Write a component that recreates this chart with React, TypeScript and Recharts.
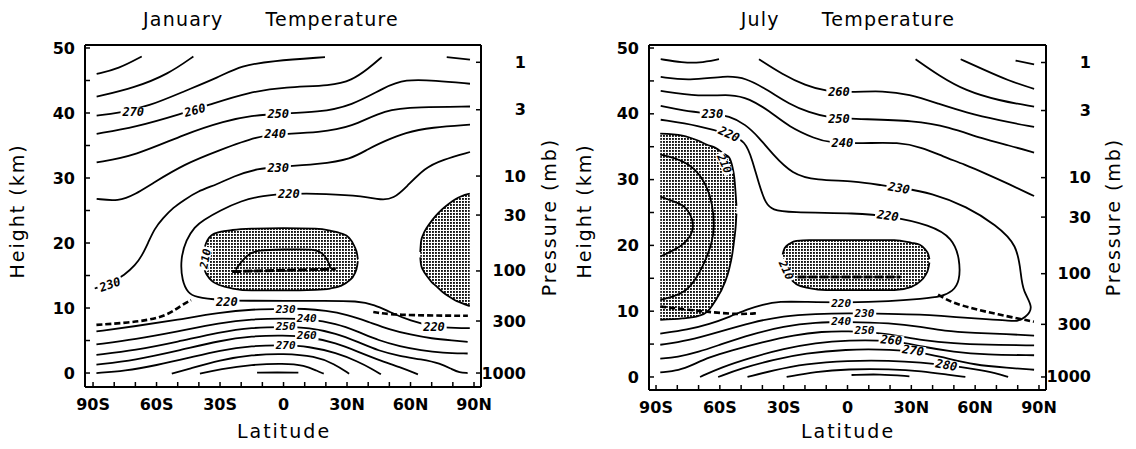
import React from 'react';
import { ComposedChart, Line, Area, Scatter, XAxis, YAxis } from 'recharts';

type Row = number[];

// axis ticks
const latTicks = [-90, -80, -70, -60, -50, -40, -30, -20, -10, 0, 10, 20, 30, 40, 50, 60, 70, 80, 90];
const latMajor = [-90, -60, -30, 0, 30, 60, 90];
const latLabels = ['90S', '60S', '30S', '0', '30N', '60N', '90N'];
const kmTicks = [0, 5, 10, 15, 20, 25, 30, 35, 40, 45, 50];
const kmLabels = [0, 10, 20, 30, 40, 50];
const pressureKm = [0, 8.0, 15.7, 24.3, 30.3, 40.5, 47.8];
const pressureLabels = ['1000', '300', '100', '30', '10', '3', '1'];

// ---- January contours [lat, km] ----
const janA = [[-88.3, 46.0], [-78, 46.8], [-67, 48.7]];
const janB = [[-88.3, 42.5], [-70.2, 43.9], [-54.4, 46.0], [-42.6, 48.7]];
const janTopRight = [[77.1, 48.6], [88.1, 48.2]];
const jan270 = [[-88.3, 39.6], [-78, 40.0], [-63.9, 41.0], [-46.5, 43.4], [-30.8, 45.5], [-19.8, 47.3], [-5.6, 48.0], [19.6, 48.6]];
const jan260 = [[-88.3, 36.8], [-70.2, 37.8], [-48.1, 39.9], [-33.9, 41.4], [-16.6, 43.2], [0.7, 44.0], [22.7, 44.2], [32.2, 45.0], [40, 46.8], [46.4, 48.6]];
const jan250 = [[-88.3, 32.4], [-70.2, 33.4], [-46.5, 36.8], [-27.6, 38.8], [-15.1, 39.6], [-2.5, 39.9], [16.4, 40.1], [32.2, 41.1], [47.9, 44.0], [57.4, 45.2], [71.6, 45.0], [88.1, 44.5]];
const jan240 = [[-88.3, 26.8], [-78, 26.4], [-70, 27.5], [-62.3, 29.1], [-46.5, 32.2], [-30.8, 34.2], [-11.9, 36.5], [0, 36.8], [16.4, 37.0], [32.2, 37.8], [47.9, 40.6], [63.7, 40.9], [88.1, 41.0]];
const jan230 = [[-89.2, 13.0], [-82, 13.8], [-75, 15.1], [-70, 16.6], [-67, 18.0], [-64, 20.0], [-61, 22.2], [-57, 23.8], [-52, 25.5], [-47, 26.6], [-41, 27.9], [-30.8, 29.1], [-24.2, 30.2], [-11.9, 31.5], [-2.3, 31.7], [16.4, 32.1], [32.2, 32.9], [40, 34.5], [47.9, 35.7], [57.4, 37.0], [70, 37.8], [88.1, 38.2]];
const jan220 = [[88.1, 34.0], [75, 32.8], [66.9, 31.6], [58, 28.6], [52, 26.8], [46, 26.6], [38, 27.2], [20, 27.6], [2.6, 27.6], [-10, 27.3], [-20, 26.5], [-30, 25.0], [-38, 23.5], [-42, 22.5], [-46, 20.5], [-48.7, 17.6], [-48, 14.1], [-45, 12.3], [-42, 11.7], [-30, 11.2], [-15.8, 11.1], [0, 11.1], [20, 11.1], [34.8, 11.1], [43.2, 10.5], [50, 9.4], [60, 8.0], [71, 7.1], [82, 6.9], [88, 6.9]];
const jan200 = [[-22.5, 15.9], [-21.7, 16.4], [-18, 17.8], [-15.8, 18.4], [-12.5, 18.9], [0, 19.0], [14.5, 19.1], [18.8, 18.4], [21.5, 17.0], [22.1, 16.1]];
const jan230t = [[-88.4, 6.4], [-70, 7.2], [-50, 8.2], [-30, 9.3], [-15, 9.8], [0, 9.9], [10, 9.9], [20, 9.6], [30, 9.0], [40, 7.9], [50, 6.7], [60, 5.9], [70, 5.3], [80, 5.0], [87, 4.8]];
const jan240t = [[-88.4, 4.4], [-70, 5.2], [-50, 6.4], [-30, 7.7], [-15, 8.3], [0, 8.4], [12, 8.3], [25, 7.6], [35, 6.4], [45, 5.0], [55, 4.1], [65, 3.5], [75, 3.1], [87, 3.0]];
const jan250t = [[-88.4, 2.8], [-70, 3.5], [-50, 4.8], [-30, 6.3], [-15, 7.0], [0, 7.1], [12, 7.0], [25, 6.1], [35, 4.8], [45, 3.4], [55, 2.6], [65, 2.1], [74, 1.5], [80, 0.5], [83, 0.1], [87, 0.0]];
const jan260t = [[-88.4, 1.3], [-70, 2.0], [-50, 3.4], [-30, 5.0], [-15, 5.7], [0, 5.8], [12, 5.6], [25, 4.6], [35, 3.3], [45, 2.0], [55, 0.9], [63.5, -0.2]];
const jan270t = [[-88.4, 0.0], [-75, 0.3], [-60, 1.2], [-45, 2.3], [-30, 3.5], [-15, 4.2], [0, 4.3], [12, 4.1], [25, 3.1], [35, 1.8], [42, 0.6], [46, -0.2]];
const jan280 = [[-52.8, -0.1], [-45, 0.6], [-30, 2.0], [-15, 2.8], [0, 3.0], [15, 2.6], [24, 1.4], [31, -0.1]];
const jan290 = [[-39.5, -0.1], [-30, 0.6], [-15, 1.3], [0, 1.5], [10, 1.2], [16, 0.3], [19, -0.1]];
const jan300 = [[-12.5, 0.05], [-3, 0.1], [7, 0.05]];
const janTropoLeft = [[-88.4, 7.4], [-66.4, 7.9], [-54.6, 8.9], [-47.9, 10.5], [-43.7, 11.2]];
const janTropoRight = [[42.4, 9.4], [51.6, 8.9], [87.1, 8.8]];
const janTropoMid = [[-24.3, 15.6], [24.7, 16.0]];
// shaded (below 210) regions [lat, low km, high km]
const janShadeTropics = [[-37.9, 17.0, 18.0], [-37, 15.6, 19.6], [-36, 15.0, 20.4], [-34, 14.2, 21.2], [-30, 13.5, 21.7], [-24, 13.0, 22.0], [-15, 12.7, 22.2], [0, 12.7, 22.3], [15, 12.8, 22.2], [22, 13.0, 21.9], [27, 13.4, 21.5], [31, 14.2, 20.8], [33.5, 15.2, 19.5], [34.8, 16.5, 18.2], [35.1, 17.2, 17.5]];
const janShadePolar = [[64.6, 17.8, 18.6], [65, 16.6, 20.3], [66, 15.8, 21.3], [68, 14.8, 22.5], [70, 14.0, 23.4], [72, 13.4, 24.2], [75, 12.5, 25.2], [78, 11.8, 26.0], [81, 11.2, 26.7], [84, 10.8, 27.2], [88, 10.3, 27.6]];
// contour labels [lat, km, text, angle, font size]
const janLabels: any[] = [
  [-71, 40.1, '270', 0, 12], [-41.8, 40.4, '260', -15, 12], [-2.5, 39.9, '250', 0, 12], [-4, 36.7, '240', 0, 12],
  [-2.5, 31.6, '230', 0, 12], [2.5, 27.5, '220', 0, 12], [-36.8, 17.6, '210', -80, 11], [-82, 13.6, '230', -20, 12],
  [-26.8, 11.0, '220', 0, 12], [1, 9.7, '230', 0, 11], [11, 8.4, '240', 0, 11], [1, 7.1, '250', 0, 11],
  [11, 5.8, '260', 0, 11], [1, 4.3, '270', 0, 11], [71.1, 7.1, '220', 0, 12],
];

// ---- July contours [lat, km] ----
const julA = [[-87.8, 48.3], [-77.6, 47.8], [-69.8, 47.7], [-60.4, 48.3]];
const julRight1 = [[32.0, 48.3], [43.0, 45.8], [55.5, 43.5], [71.2, 42.0], [87.7, 41.1]];
const julRight2 = [[53.2, 48.3], [63.4, 46.8], [75.9, 45.0], [87.7, 43.8]];
const julRight3 = [[79.0, 48.1], [87.7, 47.5]];
const jul260 = [[-41.6, 48.3], [-30.6, 46.0], [-19.7, 44.3], [-10.3, 43.4], [3.8, 43.3], [16.4, 43.5], [28.9, 43.0], [43.0, 41.5], [55.5, 40.2], [71.2, 39.0], [87.7, 38.0]];
const jul250 = [[-87.8, 45.6], [-74.5, 45.0], [-57.3, 45.8], [-47.9, 45.5], [-36.9, 43.5], [-27.5, 41.5], [-18.1, 40.2], [-8.7, 39.4], [3.8, 39.2], [32.0, 39.0], [47.7, 38.0], [63.4, 36.2], [75.9, 35.2], [87.7, 34.1]];
const jul240 = [[-87.8, 43.5], [-69.8, 42.6], [-54.1, 43.0], [-46.3, 42.3], [-36.9, 40.5], [-27.5, 38.0], [-15.0, 36.2], [-8.7, 35.6], [7.0, 35.5], [24.2, 35.7], [35, 34.9], [45, 33.5], [55, 32.3], [65, 30.9], [76, 29.3], [87.7, 27.5]];
const jul230 = [[-87.8, 41.2], [-77.6, 40.5], [-63.5, 40.0], [-55.7, 39.7], [-47.9, 38.4], [-41.6, 36.4], [-35.3, 33.9], [-25.9, 30.8], [-15.0, 29.9], [3.8, 29.8], [16.4, 29.1], [25.6, 28.7], [39.3, 28.0], [56.2, 25.9], [69.8, 23.1], [79.9, 20.1], [81.5, 15.5], [82.5, 13.0], [87.7, 10.5], [83.4, 9.0], [79.9, 8.4], [75, 8.6], [65, 8.8], [55, 9.0], [43.5, 9.3], [35, 9.5], [20, 9.6], [0, 9.7], [-15, 9.6], [-30, 9.3], [-45, 8.3], [-60, 6.9], [-75, 5.5], [-88, 4.9]];
const jul220 = [[-87.8, 39.1], [-69.8, 38.2], [-55.7, 36.9], [-47.9, 35.9], [-44.7, 32.9], [-41.6, 29.3], [-38.5, 26.3], [-35, 25.4], [-28.6, 25.0], [5.3, 24.9], [18.9, 24.5], [39.2, 23.1], [49.4, 21.1], [52.8, 18.0], [52.8, 14.5], [49.4, 13.0], [44.3, 12.2], [35, 11.9], [20, 11.5], [0, 11.3], [-20, 11.4], [-32, 11.5], [-40, 11.0], [-47, 10.3], [-55, 9.2], [-65, 8.0], [-75, 7.2], [-88, 6.6]];
const julInnerA = [[-88, 33.8], [-78, 33.0], [-71, 31.5], [-66, 29.0], [-63.5, 26.3], [-62.5, 23.0], [-63.5, 20.5], [-67.6, 17.0], [-72, 14.5], [-76.1, 13.0], [-82, 12.2], [-88, 11.7]];
const julInnerB = [[-88, 27.4], [-80, 26.5], [-76, 25.9], [-72.5, 24.0], [-72.5, 22.0], [-76, 20.5], [-80, 19.5], [-88, 18.3]];
const jul240t = [[-88, 2.8], [-80, 3.0], [-70, 3.8], [-60, 4.9], [-45, 6.5], [-30, 7.7], [-15, 8.3], [0, 8.4], [20, 8.2], [35, 7.6], [45, 7.0], [60, 6.7], [75, 6.5], [87.7, 6.3]];
const jul250t = [[-88, 0.7], [-79, 1.0], [-73, 1.8], [-65, 3.0], [-55, 4.0], [-40, 5.3], [-25, 6.4], [-12, 6.9], [0, 7.0], [15, 6.7], [25, 6.2], [35, 5.6], [50, 5.1], [65, 4.9], [87.7, 4.8]];
const jul260t = [[-69.3, 0], [-60, 1.4], [-45, 3.0], [-30, 4.3], [-15, 5.2], [0, 5.6], [20.6, 5.6], [35, 4.6], [50, 3.8], [65, 3.4], [87.7, 3.3]];
const jul270t = [[-60.8, 0], [-50, 1.3], [-35, 2.6], [-20, 3.6], [0, 4.2], [15, 4.2], [30.8, 4.0], [45, 3.0], [60, 1.8], [75, 1.4], [87.7, 1.1]];
const jul280 = [[-47, 0], [-35, 1.0], [-20, 2.0], [0, 2.5], [20, 2.5], [35, 2.2], [46.5, 1.8], [60, 1.2], [70, 0.6], [75.5, 0]];
const jul290 = [[-28.6, 0], [-15, 0.8], [0, 1.2], [20, 1.2], [35, 0.9], [47.8, 0.3], [55.4, 0]];
const jul300 = [[1.9, 0.3], [15, 0.45], [29.1, 0.1]];
const julTropoLeft = [[-88, 10.7], [-74.5, 10.2], [-62.6, 9.8], [-50.7, 9.5], [-42.2, 9.7]];
const julTropoRight = [[42.6, 12.5], [49.4, 11.2], [64.7, 9.9], [87.6, 8.4]];
const julTropoMid = [[-23.5, 15.2], [24.8, 15.2]];
const julShadeTropics = [[-30.5, 17.8, 18.6], [-29.5, 16.2, 19.6], [-27, 15.0, 20.3], [-24, 14.1, 20.7], [-18, 13.5, 20.8], [-10, 13.2, 20.8], [10, 13.2, 20.8], [22, 13.2, 20.8], [30, 13.7, 20.4], [34, 14.5, 20.1], [36.5, 15.4, 19.4], [38, 16.5, 18.6], [38.5, 17.4, 17.9]];
const julShadePolar = [[-88, 8.7, 37.0], [-77.6, 8.9, 36.7], [-70, 9.3, 35.9], [-66, 9.9, 35.3], [-62.5, 11.4, 34.9], [-57.5, 14.5, 33.8], [-55.7, 16.3, 33.4], [-54, 19.0, 31.8], [-53.2, 21.0, 30.3], [-52.5, 23.1, 27.5], [-52.2, 24.8, 26.0]];
const julLabels: any[] = [
  [-4, 43.3, '260', 0, 12], [-4, 39.2, '250', 0, 12], [-2.4, 35.5, '240', 0, 12], [-63.5, 40.0, '230', 0, 12],
  [-55.7, 36.9, '220', 25, 12], [-58, 32.4, '210', 65, 11], [24.2, 28.7, '230', 10, 12], [18.9, 24.5, '220', 8, 12],
  [-29, 16.2, '210', 65, 11], [-3, 11.2, '220', 0, 11], [8, 9.7, '230', 0, 11], [-3, 8.4, '240', 0, 11],
  [8, 7.0, '250', 0, 11], [20.6, 5.6, '260', 5, 12], [30.8, 4.0, '270', 8, 12], [46.5, 1.8, '280', 10, 12],
];

const toPts = (a: Row[]) => a.map(([lat, km]) => ({ lat, km }));
const toRange = (a: Row[]) => a.map(([lat, lo, hi]) => ({ lat, range: [lo, hi] }));
const toLabels = (a: any[]) => a.map(([lat, km, text, angle, size]) => ({ lat, km, text, angle, size }));

const fmtLat = (v: number) => {
  const i = latMajor.indexOf(v);
  return i >= 0 ? latLabels[i] : '';
};
const fmtKm = (v: number) => (kmLabels.includes(v) ? String(v) : '');

const tickFont = { fill: '#000', fontSize: 16, fontWeight: 700, fontFamily: 'DejaVu Sans' };
const axisLine = { stroke: '#000', strokeWidth: 2 };
const tickLine = { stroke: '#000', strokeWidth: 1.5 };

const PressureTick = (props: any) => {
  const { x, y, payload } = props;
  const i = pressureKm.indexOf(payload.value);
  return (
    <text x={x + 50} y={y} textAnchor="end" dominantBaseline="central" {...tickFont}>
      {i >= 0 ? pressureLabels[i] : ''}
    </text>
  );
};

const ContourLabel = (props: any) => {
  const { cx, cy, payload } = props;
  const size = payload.size;
  const w = payload.text.length * size * 0.62 + 3;
  const h = size * 0.85;
  return (
    <g transform={`translate(${cx},${cy}) rotate(${payload.angle})`}>
      <rect x={-w / 2} y={-h / 2} width={w} height={h} fill="#fff" />
      <text
        textAnchor="middle"
        dominantBaseline="central"
        fontSize={size}
        fontWeight={700}
        fontStyle="italic"
        fontFamily="DejaVu Sans Mono"
        fill="#000"
      >
        {payload.text}
      </text>
    </g>
  );
};

interface PanelProps {
  id: string;
  left: number;
  plotBottom: number;
  marginRight: number;
  xDomain: number[];
  yDomain: number[];
  contours: Row[][];
  dashed: Row[][];
  thick: Row[];
  shades: Row[][];
  labels: any[];
}

const Panel = ({ id, left, plotBottom, marginRight, xDomain, yDomain, contours, dashed, thick, shades, labels }: PanelProps) => (
  <div style={{ position: 'absolute', left, top: 0 }}>
    <ComposedChart
      width={560}
      height={449}
      margin={{ top: 44, right: marginRight, bottom: 449 - plotBottom - 40, left: 25 }}
    >
      <defs>
        <pattern id={id} width={3} height={3} patternUnits="userSpaceOnUse">
          <rect width={3} height={3} fill="#fff" />
          <rect width={1.9} height={1.9} fill="#111" />
        </pattern>
      </defs>
      <XAxis
        dataKey="lat"
        type="number"
        domain={xDomain}
        ticks={latTicks}
        interval={0}
        tickFormatter={fmtLat}
        allowDataOverflow
        axisLine={axisLine}
        tickLine={tickLine}
        tickSize={-5}
        tickMargin={17}
        tick={tickFont}
        height={40}
      />
      <XAxis
        xAxisId="top"
        orientation="top"
        type="number"
        domain={xDomain}
        ticks={latTicks}
        interval={0}
        tickFormatter={() => ''}
        allowDataOverflow
        axisLine={axisLine}
        tickLine={tickLine}
        tickSize={-5}
        height={1}
      />
      <YAxis
        type="number"
        domain={yDomain}
        ticks={kmTicks}
        interval={0}
        tickFormatter={fmtKm}
        allowDataOverflow
        axisLine={axisLine}
        tickLine={tickLine}
        tickSize={-5}
        tickMargin={15}
        tick={tickFont}
        width={60}
      />
      <YAxis
        yAxisId="p"
        orientation="right"
        type="number"
        domain={yDomain}
        ticks={pressureKm}
        interval={0}
        allowDataOverflow
        axisLine={axisLine}
        tickLine={tickLine}
        tickSize={-5}
        tickMargin={0}
        tick={<PressureTick />}
        width={60}
      />
      {shades.map((s, i) => (
        <Area
          key={`shade-${i}`}
          data={toRange(s)}
          dataKey="range"
          type="monotone"
          fill={`url(#${id})`}
          fillOpacity={1}
          stroke="#000"
          strokeWidth={1.8}
          dot={false}
          activeDot={false}
          isAnimationActive={false}
        />
      ))}
      {contours.map((c, i) => (
        <Line
          key={`c-${i}`}
          data={toPts(c)}
          dataKey="km"
          type="basis"
          stroke="#000"
          strokeWidth={1.8}
          dot={false}
          activeDot={false}
          isAnimationActive={false}
        />
      ))}
      {dashed.map((c, i) => (
        <Line
          key={`d-${i}`}
          data={toPts(c)}
          dataKey="km"
          type="basis"
          stroke="#000"
          strokeWidth={2.6}
          strokeDasharray="6 3"
          dot={false}
          activeDot={false}
          isAnimationActive={false}
        />
      ))}
      <Line
        data={toPts(thick)}
        dataKey="km"
        type="linear"
        stroke="#000"
        strokeWidth={3}
        strokeDasharray="9 2"
        dot={false}
        activeDot={false}
        isAnimationActive={false}
      />
      <Scatter data={toLabels(labels)} dataKey="km" shape={ContourLabel} isAnimationActive={false} />
    </ComposedChart>
  </div>
);

const textBase: React.CSSProperties = {
  position: 'absolute',
  fontFamily: 'DejaVu Sans',
  color: '#000',
  whiteSpace: 'nowrap',
  lineHeight: 1,
};

const Title = ({ cx, first }: { cx: number; first: string }) => (
  <div style={{ ...textBase, left: cx, top: 19, transform: 'translate(-50%,-50%)', fontSize: 19, letterSpacing: 1.2 }}>
    <span>{first}</span>
    <span style={{ marginLeft: 42 }}>Temperature</span>
  </div>
);

const VLabel = ({ cx, cy, text }: { cx: number; cy: number; text: string }) => (
  <div style={{ ...textBase, left: cx, top: cy, transform: 'translate(-50%,-50%) rotate(-90deg)', fontSize: 19, letterSpacing: 2 }}>
    {text}
  </div>
);

const HLabel = ({ cx, cy, text }: { cx: number; cy: number; text: string }) => (
  <div style={{ ...textBase, left: cx, top: cy, transform: 'translate(-50%,-50%)', fontSize: 19, letterSpacing: 2 }}>
    {text}
  </div>
);

export default function App() {
  return (
    <div style={{ position: 'absolute', left: 0, top: 0, width: 1136, height: 449, background: '#fff', overflow: 'hidden' }}>
      <Panel
        id="stipple-jan"
        left={0}
        plotBottom={387}
        marginRight={19}
        xDomain={[-93.8, 93.3]}
        yDomain={[-2.15, 50.46]}
        contours={[janA, janB, janTopRight, jan270, jan260, jan250, jan240, jan230, jan220, jan200, jan230t, jan240t, jan250t, jan260t, jan270t, jan280, jan290, jan300]}
        dashed={[janTropoLeft, janTropoRight]}
        thick={janTropoMid}
        shades={[janShadeTropics, janShadePolar]}
        labels={janLabels}
      />
      <Panel
        id="stipple-jul"
        left={564}
        plotBottom={390}
        marginRight={18}
        xDomain={[-93.3, 93.3]}
        yDomain={[-1.98, 50.46]}
        contours={[julA, julRight1, julRight2, julRight3, jul260, jul250, jul240, jul230, jul220, julInnerA, julInnerB, jul240t, jul250t, jul260t, jul270t, jul280, jul290, jul300]}
        dashed={[julTropoLeft, julTropoRight]}
        thick={julTropoMid}
        shades={[julShadeTropics, julShadePolar]}
        labels={julLabels}
      />
      <Title cx={271} first="January" />
      <Title cx={848} first="July" />
      <VLabel cx={17} cy={211} text="Height (km)" />
      <VLabel cx={549} cy={217} text="Pressure (mb)" />
      <VLabel cx={584} cy={211} text="Height (km)" />
      <VLabel cx={1113} cy={217} text="Pressure (mb)" />
      <HLabel cx={284} cy={431} text="Latitude" />
      <HLabel cx={848} cy={431} text="Latitude" />
    </div>
  );
}
